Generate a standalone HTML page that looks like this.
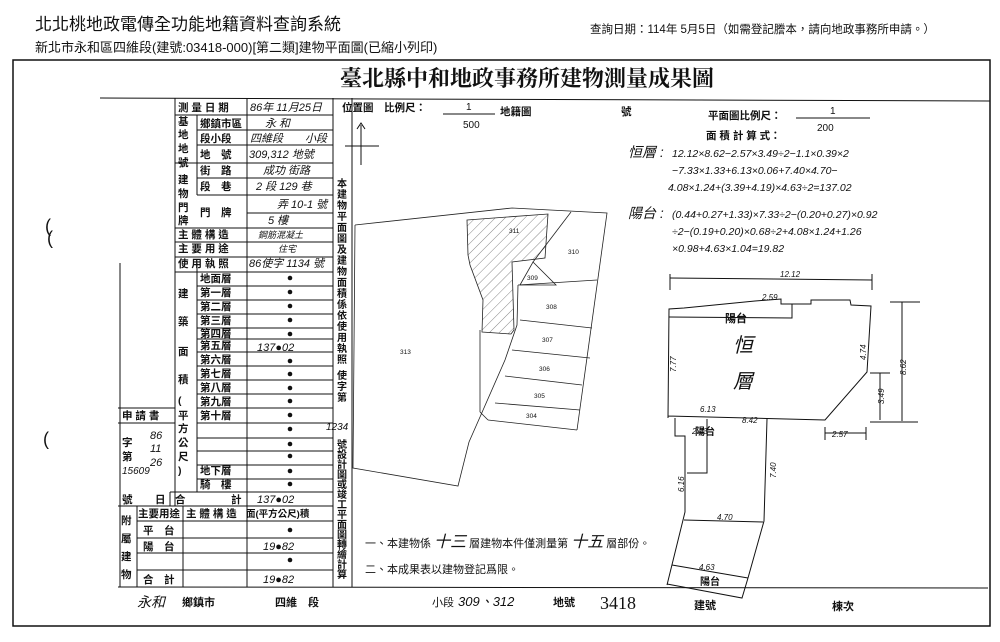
<!DOCTYPE html>
<html><head><meta charset="utf-8"><style>
body{margin:0;background:#fff;width:1000px;height:642px;overflow:hidden}
svg{display:block}
text{font-family:"Liberation Sans","Noto Sans CJK TC",sans-serif;fill:#111}
.s{font-family:"Liberation Serif","Noto Serif CJK SC",serif}
.h{font-style:italic}
</style></head><body>
<svg width="1000" height="642" viewBox="0 0 1000 642" xmlns="http://www.w3.org/2000/svg">
<defs><pattern id="hat" width="7" height="7" patternUnits="userSpaceOnUse" patternTransform="rotate(45)"><line x1="0" y1="0" x2="0" y2="7" stroke="#555" stroke-width="0.7"/></pattern></defs>
<text x="35" y="30" font-size="17" fill="#333">北北桃地政電傳全功能地籍資料查詢系統</text>
<text x="35" y="52" font-size="13" fill="#333">新北市永和區四維段(建號:03418-000)[第二類]建物平面圖(已縮小列印)</text>
<text x="590" y="33" font-size="11.5" fill="#444">查詢日期：114年 5月5日（如需登記謄本，請向地政事務所申請。）</text>
<rect x="13" y="60" width="977" height="566" fill="none" stroke="#111" stroke-width="1.5"/>
<text x="340" y="86" font-size="22" font-weight="bold" class="s">臺北縣中和地政事務所建物測量成果圖</text>
<g stroke="#111" stroke-width="1" fill="none">
<line x1="100" y1="98" x2="990" y2="101"/>
<line x1="333" y1="98" x2="333" y2="587"/>
<line x1="352" y1="98" x2="352" y2="587"/>
<line x1="118" y1="587" x2="988" y2="588"/>
<line x1="175" y1="98" x2="175" y2="506"/>
<line x1="247" y1="98" x2="247" y2="587"/>
<line x1="197" y1="115" x2="197" y2="195"/>
<line x1="197" y1="263" x2="197" y2="492"/>
<line x1="120" y1="263" x2="120" y2="587"/>
<line x1="118" y1="408" x2="175" y2="408"/>
<line x1="118" y1="423" x2="175" y2="423"/>
<line x1="170" y1="492" x2="170" y2="506"/>
<line x1="118" y1="506" x2="333" y2="506"/>
<line x1="137" y1="506" x2="137" y2="587"/>
<line x1="183" y1="506" x2="183" y2="587"/>
<line x1="137" y1="521" x2="333" y2="521"/>
<line x1="137" y1="538" x2="333" y2="538"/>
<line x1="137" y1="553" x2="333" y2="553"/>
<line x1="137" y1="570" x2="333" y2="570"/>
</g>
<g stroke="#111" stroke-width="1">
<line x1="175" y1="115" x2="333" y2="115"/><line x1="197" y1="130" x2="333" y2="130"/><line x1="197" y1="145" x2="333" y2="145"/>
<line x1="175" y1="163" x2="333" y2="163"/><line x1="197" y1="178" x2="333" y2="178"/><line x1="197" y1="195" x2="333" y2="195"/>
<line x1="247" y1="213" x2="333" y2="213"/><line x1="175" y1="228" x2="333" y2="228"/><line x1="175" y1="242" x2="333" y2="242"/>
<line x1="175" y1="257" x2="333" y2="257"/><line x1="175" y1="272" x2="333" y2="272"/>
<line x1="197" y1="286" x2="333" y2="286"/><line x1="197" y1="300" x2="333" y2="300"/><line x1="197" y1="314" x2="333" y2="314"/>
<line x1="197" y1="328" x2="333" y2="328"/><line x1="197" y1="339" x2="333" y2="339"/><line x1="197" y1="352" x2="333" y2="352"/>
<line x1="197" y1="366" x2="333" y2="366"/><line x1="197" y1="380" x2="333" y2="380"/><line x1="197" y1="394" x2="333" y2="394"/>
<line x1="197" y1="408" x2="333" y2="408"/><line x1="197" y1="423" x2="333" y2="423"/><line x1="197" y1="438" x2="333" y2="438"/>
<line x1="197" y1="451" x2="333" y2="451"/><line x1="197" y1="465" x2="333" y2="465"/><line x1="197" y1="479" x2="333" y2="479"/>
<line x1="170" y1="492" x2="333" y2="492"/>
</g>
<g font-size="10.5" font-weight="bold">
<text x="178" y="111">測 量 日 期</text><text x="200" y="127">鄉鎮市區</text><text x="200" y="142">段小段</text><text x="200" y="158">地　號</text>
<text x="200" y="174">街　路</text><text x="200" y="190">段　巷</text><text x="200" y="216">門　牌</text>
<text x="178" y="238">主 體 構 造</text><text x="178" y="252">主 要 用 途</text><text x="178" y="267">使 用 執 照</text>
<text x="200" y="282">地面層</text><text x="200" y="296">第一層</text><text x="200" y="310">第二層</text><text x="200" y="324">第三層</text>
<text x="200" y="337">第四層</text><text x="200" y="349">第五層</text><text x="200" y="363">第六層</text><text x="200" y="377">第七層</text>
<text x="200" y="391">第八層</text><text x="200" y="405">第九層</text><text x="200" y="419">第十層</text><text x="200" y="474">地下層</text><text x="200" y="488">騎　樓</text>
<text x="122" y="419">申 請 書</text><text x="175" y="503">合</text><text x="231" y="503">計</text><text x="122" y="503">號</text><text x="155" y="503">日</text>
<text x="122" y="446">字</text><text x="122" y="460">第</text>
<text x="138" y="517">主要用途</text><text x="186" y="517">主 體 構 造</text><text x="246" y="517" font-size="9.5">面(平方公尺)積</text>
<text x="143" y="534">平　台</text><text x="143" y="550">陽　台</text><text x="143" y="583">合　計</text>
</g>
<g font-size="10.5" font-weight="bold">
<text x="178" y="125">基</text><text x="178" y="138">地</text><text x="178" y="152">地</text><text x="178" y="166">號</text>
<text x="178" y="183">建</text><text x="178" y="197">物</text><text x="178" y="211">門</text><text x="178" y="224">牌</text>
<text x="178" y="297">建</text><text x="178" y="325">築</text><text x="178" y="355">面</text><text x="178" y="383">積</text>
<text x="178" y="404">(</text><text x="178" y="419">平</text><text x="178" y="432">方</text><text x="178" y="446">公</text><text x="178" y="460">尺</text><text x="178" y="474">)</text>
<text x="121" y="524">附</text><text x="121" y="542">屬</text><text x="121" y="560">建</text><text x="121" y="578">物</text>
</g>
<g font-size="10" font-weight="bold">
<text x="337" y="187">本</text><text x="337" y="198">建</text><text x="337" y="209">物</text><text x="337" y="220">平</text><text x="337" y="231">面</text><text x="337" y="242">圖</text><text x="337" y="253">及</text><text x="337" y="264">建</text><text x="337" y="275">物</text><text x="337" y="286">面</text><text x="337" y="297">積</text><text x="337" y="308">係</text><text x="337" y="319">依</text><text x="337" y="330">使</text><text x="337" y="341">用</text><text x="337" y="352">執</text><text x="337" y="363">照</text><text x="337" y="379">使</text><text x="337" y="390">字</text><text x="337" y="401">第</text>
<text x="337" y="448">號</text><text x="337" y="458">設</text><text x="337" y="468">計</text><text x="337" y="478">圖</text><text x="337" y="488">或</text><text x="337" y="498">竣</text><text x="337" y="508">工</text><text x="337" y="518">平</text><text x="337" y="528">面</text><text x="337" y="538">圖</text><text x="337" y="548">轉</text><text x="337" y="558">繪</text><text x="337" y="568">計</text><text x="337" y="578">算</text>
<text x="326" y="430" class="h" font-weight="normal">1234</text>
</g>
<g font-size="11" class="h">
<text x="250" y="111">86年 11月25日</text><text x="265" y="127">永 和</text><text x="250" y="142">四維段　　小段</text>
<text x="249" y="158">309,312 地號</text><text x="263" y="174">成功 街路</text><text x="256" y="190">2 段 129 巷</text>
<text x="277" y="208">弄 10-1 號</text><text x="268" y="224">5 樓</text><text x="258" y="238" font-size="9">鋼筋混凝土</text><text x="278" y="252" font-size="9">住宅</text>
<text x="249" y="267">86使字 1134 號</text><text x="257" y="351">137●02</text><text x="257" y="503">137●02</text>
<text x="263" y="550">19●82</text><text x="263" y="583">19●82</text>
<text x="150" y="439">86</text><text x="150" y="452">11</text><text x="150" y="466">26</text><text x="122" y="474" font-size="10">15609</text>
</g>
<g fill="#111">
<circle cx="290" cy="278" r="2.3"/><circle cx="290" cy="292" r="2.3"/><circle cx="290" cy="306" r="2.3"/><circle cx="290" cy="320" r="2.3"/><circle cx="290" cy="334" r="2.3"/><circle cx="290" cy="361" r="2.3"/><circle cx="290" cy="374" r="2.3"/><circle cx="290" cy="388" r="2.3"/><circle cx="290" cy="401" r="2.3"/><circle cx="290" cy="415" r="2.3"/><circle cx="290" cy="429" r="2.3"/><circle cx="290" cy="444" r="2.3"/><circle cx="290" cy="456" r="2.3"/><circle cx="290" cy="471" r="2.3"/><circle cx="290" cy="484" r="2.3"/><circle cx="290" cy="530" r="2.3"/><circle cx="290" cy="560" r="2.3"/>
</g>
<text x="45" y="232" font-size="18">(</text><text x="47" y="244" font-size="18">(</text><text x="43" y="445" font-size="18">(</text>
<text x="342" y="111" font-size="10.5" font-weight="bold">位置圖　比例尺：</text>
<text x="466" y="110" font-size="10">1</text><line x1="443" y1="114" x2="495" y2="114" stroke="#111"/><text x="463" y="128" font-size="10">500</text>
<text x="500" y="115" font-size="10.5" font-weight="bold">地籍圖</text><text x="621" y="115" font-size="10.5" font-weight="bold">號</text>
<line x1="361" y1="125" x2="361" y2="165" stroke="#111"/><line x1="345" y1="146" x2="379" y2="146" stroke="#111"/><path d="M357 129 L361 123 L365 129" fill="none" stroke="#111"/>
<text x="708" y="119" font-size="10.5" font-weight="bold">平面圖比例尺：</text>
<text x="830" y="114" font-size="10">1</text><line x1="796" y1="118" x2="870" y2="118" stroke="#111"/><text x="817" y="131" font-size="10">200</text>
<text x="706" y="139" font-size="10.5" font-weight="bold">面 積 計 算 式：</text>
<g font-size="10.5" class="h">
<text x="628" y="157" font-size="14">恒層 :</text><text x="672" y="157">12.12×8.62−2.57×3.49÷2−1.1×0.39×2</text>
<text x="672" y="174">−7.33×1.33+6.13×0.06+7.40×4.70−</text>
<text x="668" y="191">4.08×1.24+(3.39+4.19)×4.63÷2=137.02</text>
<text x="628" y="218" font-size="14">陽台 :</text><text x="672" y="218">(0.44+0.27+1.33)×7.33÷2−(0.20+0.27)×0.92</text>
<text x="672" y="235">÷2−(0.19+0.20)×0.68÷2+4.08×1.24+1.26</text>
<text x="672" y="252">×0.98+4.63×1.04=19.82</text>
</g>
<g stroke="#222" stroke-width="0.8" fill="none">
<polygon points="467,220 548,214 545,258 512,262 514,330 511,334 482,332 483,300 470,265 468,255" fill="url(#hat)"/>
<polyline points="355,225 512,208 607,213 577,430"/>
<polyline points="355,225 353,468 458,486 469,442 480,417 505,360 517,325 518,285"/>
<line x1="571" y1="212" x2="533" y2="262"/><line x1="518" y1="285" x2="597" y2="280"/>
<line x1="520" y1="320" x2="592" y2="328"/><line x1="512" y1="350" x2="590" y2="358"/>
<line x1="505" y1="376" x2="582" y2="385"/><line x1="495" y1="403" x2="580" y2="410"/><line x1="488" y1="420" x2="577" y2="430"/>
<line x1="480" y1="330" x2="480" y2="412"/><line x1="480" y1="412" x2="488" y2="420"/>
<polygon points="520,285 533,262 556,285"/>
</g>
<g font-size="6.5" fill="#555"><text x="568" y="254">310</text><text x="509" y="233">311</text><text x="527" y="280">309</text><text x="546" y="309">308</text><text x="542" y="342">307</text><text x="539" y="371">306</text><text x="534" y="398">305</text><text x="526" y="418">304</text><text x="400" y="354">313</text></g>
<g stroke="#111" stroke-width="1" fill="none">
<polyline points="668,418 669,309 684,308 755,301 781,299 781,304 811,304 811,300 850,300 851,305 871,306 867,372 825,420 668,416"/>
<polyline points="669,317 792,318 792,304"/>
<line x1="670" y1="278" x2="872" y2="280"/><line x1="670" y1="274" x2="670" y2="290"/><line x1="872" y1="274" x2="872" y2="290"/>
<line x1="902" y1="302" x2="902" y2="421"/><line x1="890" y1="302" x2="920" y2="302"/><line x1="870" y1="422" x2="918" y2="422"/>
<line x1="880" y1="373" x2="880" y2="420"/><line x1="870" y1="373" x2="890" y2="373"/>
<line x1="825" y1="433" x2="866" y2="433"/><line x1="825" y1="427" x2="825" y2="440"/><line x1="866" y1="427" x2="866" y2="440"/>
<polyline points="675,418 675,436 685,436 685,512 667,585"/>
<polyline points="707,419 707,473 687,473"/>
<polyline points="767,419 764,521 748,578"/>
<line x1="684" y1="520" x2="763" y2="522"/>
<line x1="672" y1="565" x2="748" y2="578"/>
<polyline points="667,584 742,598 748,578"/>
</g>
<g font-size="8" class="h"><text x="780" y="277">12.12</text><text x="762" y="300">2.59</text><text x="742" y="423">8.42</text><text x="832" y="437">2.57</text><text x="700" y="412">6.13</text><text x="717" y="520">4.70</text><text x="699" y="570">4.63</text><text x="692" y="434">2.33</text></g>
<g font-size="8" class="h"><text transform="translate(676,372) rotate(-90)">7.77</text><text transform="translate(866,360) rotate(-90)">4.74</text><text transform="translate(906,375) rotate(-90)">8.62</text><text transform="translate(884,404) rotate(-90)">3.49</text><text transform="translate(776,478) rotate(-90)">7.40</text><text transform="translate(684,492) rotate(-90)">6.16</text></g>
<text x="725" y="322" font-size="11" font-weight="bold">陽台</text><text x="695" y="435" font-size="10" font-weight="bold">陽台</text><text x="700" y="585" font-size="10" font-weight="bold">陽台</text>
<text x="733" y="352" font-size="20" class="h">恒</text><text x="733" y="388" font-size="20" class="h">層</text>
<text x="365" y="547" font-size="11">一、本建物係 <tspan font-size="16" class="h">十三</tspan> 層建物本件僅測量第 <tspan font-size="16" class="h">十五</tspan> 層部份。</text>
<text x="365" y="573" font-size="11">二、本成果表以建物登記爲限。</text>
<g font-size="11" font-weight="bold">
<text x="137" y="607" class="h" font-weight="normal" font-size="14">永和</text><text x="182" y="606">鄉鎮市</text>
<text x="275" y="606">四維　段</text>
<text x="432" y="606" font-weight="normal">小段</text><text x="458" y="606" class="h" font-weight="normal" font-size="13">309、312</text>
<text x="553" y="606">地號</text><text x="600" y="609" class="s" font-weight="normal" font-size="18">3418</text>
<text x="694" y="609">建號</text><text x="832" y="610">棟次</text>
</g>
</svg>
</body></html>
